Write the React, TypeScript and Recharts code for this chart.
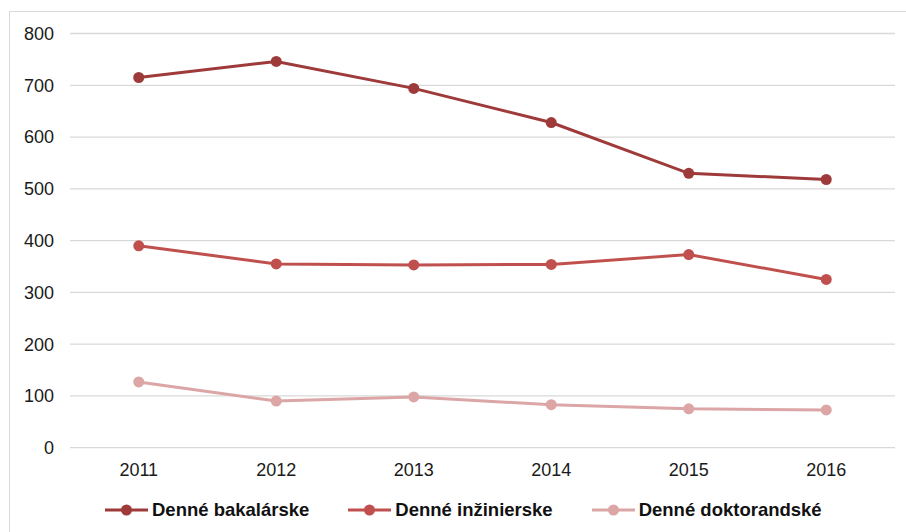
import React from 'react'
import { LineChart, Line, XAxis, YAxis, CartesianGrid } from 'recharts';

// students per year, by study programme
const years = ['2011', '2012', '2013', '2014', '2015', '2016'];
const bakalarske = [715, 746, 694, 628, 530, 518];
const inzinierske = [390, 355, 353, 354, 373, 325];
const doktorandske = [127, 90, 98, 83, 75, 73];
const yTicks = [0, 100, 200, 300, 400, 500, 600, 700, 800];

const series = [
    { key: 'bak', name: 'Denné bakalárske', color: '#9e3b3a', values: bakalarske },
    { key: 'inz', name: 'Denné inžinierske', color: '#c0504d', values: inzinierske },
    { key: 'dok', name: 'Denné doktorandské', color: '#dba6a5', values: doktorandske },
];

const data = years.map((year, i) => ({
    year,
    bak: bakalarske[i],
    inz: inzinierske[i],
    dok: doktorandske[i],
}));

const font = '"Liberation Sans", Arial, sans-serif';

function LegendMarker({ color }: { color: string }) {
    return (
        <svg width={43} height={14} style={{ display: 'block' }}>
            <line x1={0} y1={7} x2={43} y2={7} stroke={color} strokeWidth={3} />
            <circle cx={21.5} cy={7} r={5.5} fill={color} />
        </svg>
    )
}

export default function App() {
    return (
        <div style={{ position: 'absolute', left: 0, top: 0, width: 906, height: 532, overflow: 'hidden', background: '#fff', fontFamily: font }}>
            <div style={{ position: 'absolute', left: 9, top: 11, width: 960, height: 600, border: '1px solid #d9d9d9' }} />
            <LineChart width={906} height={532} data={data} margin={{ top: 33.5, right: 11, left: 10, bottom: 54.3 }}>
                <CartesianGrid vertical={false} stroke="#d9d9d9" strokeWidth={1.3} />
                {/* half a category of space on each side so points sit mid-band */}
                <XAxis dataKey="year" axisLine={false} tickLine={false} height={30} tickMargin={10}
                    padding={{ left: 68.75, right: 68.75 }}
                    tick={{ fill: '#1a1a1a', fontSize: 18, fontFamily: font }} />
                <YAxis domain={[0, 800]} ticks={yTicks} axisLine={false} tickLine={false} width={60} tickMargin={10}
                    tick={{ fill: '#1a1a1a', fontSize: 18, fontFamily: font }} />
                {series.map((s) => (
                    <Line key={s.key} dataKey={s.key} name={s.name} type="linear" stroke={s.color} strokeWidth={3}
                        dot={{ r: 5.5, fill: s.color, stroke: 'none' }} activeDot={false} isAnimationActive={false} />
                ))}
            </LineChart>
            <div style={{ position: 'absolute', left: 105, top: 499, display: 'flex', alignItems: 'center' }}>
                {series.map((s) => (
                    <div key={s.key} style={{ display: 'flex', alignItems: 'center', marginRight: 39 }}>
                        <LegendMarker color={s.color} />
                        <span style={{ marginLeft: 4, fontWeight: 'bold', fontSize: 18.5, color: '#111', whiteSpace: 'nowrap' }}>{s.name}</span>
                    </div>
                ))}
            </div>
        </div>
    )
}
